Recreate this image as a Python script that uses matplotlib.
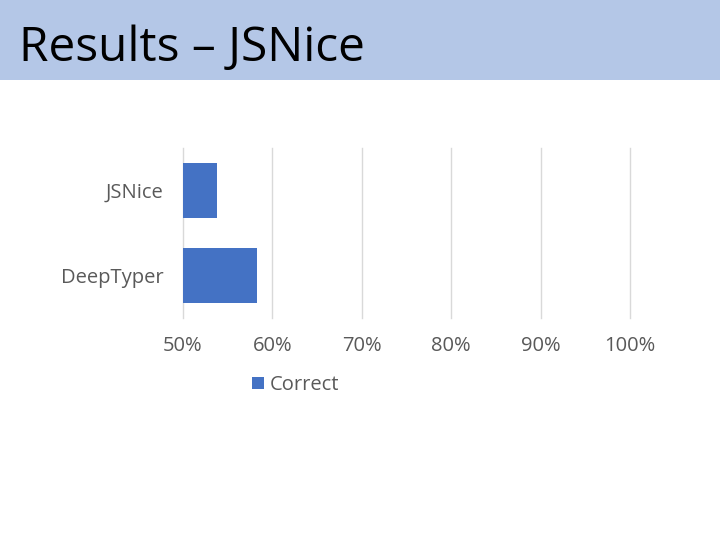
import matplotlib.pyplot as plt
from matplotlib.patches import Rectangle

plt.rcParams['font.family'] = ['Open Sans', 'DejaVu Sans']

categories = ['JSNice', 'DeepTyper']
correct = [53.8, 58.3]  # 정답률 (%)
ticks = [50, 60, 70, 80, 90, 100]
tick_labels = ['50%', '60%', '70%', '80%', '90%', '100%']

fig = plt.figure(figsize=(7.2, 5.4), dpi=100)

# 제목 배경 띠
fig.patches.append(Rectangle((0, 1 - 80 / 540), 1, 80 / 540, transform=fig.transFigure,
                             facecolor='#B4C7E7', edgecolor='none', zorder=0))
fig.text(19 / 720, 1 - 48 / 540, 'Results – JSNice', fontsize=34.5, va='center', ha='left', color='black')

ax = fig.add_axes([183 / 720, 1 - 318 / 540, 447 / 720, 170 / 540])
bars = ax.barh(categories, correct, height=0.64, color='#4472C4', label='Correct', zorder=3)
ax.set_xlim(50, 100)
ax.set_ylim(1.5, -0.5)
ax.set_xticks(ticks)
ax.set_xticklabels(tick_labels)
ax.grid(axis='x', color='#D9D9D9', linewidth=1)
for gl in ax.get_xgridlines():
    gl.set_clip_on(False)
for s in ax.spines.values():
    s.set_visible(False)
ax.tick_params(length=0, colors='#595959', labelsize=14.5)
ax.tick_params(axis='x', pad=13)
ax.tick_params(axis='y', pad=14)

fig.legend(handles=[bars], labels=['Correct'], loc='center left',
           bbox_to_anchor=(244 / 720, 1 - 385 / 540), frameon=False,
           fontsize=14.5, labelcolor='#595959', handlelength=0.6, handleheight=0.6,
           handletextpad=0.3, borderaxespad=0)

fig.savefig('out.png', dpi=100)
